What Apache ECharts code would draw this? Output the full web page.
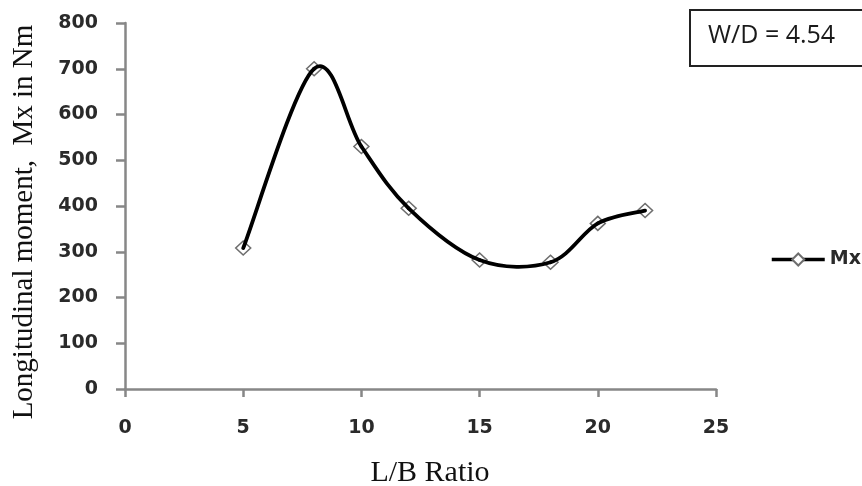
<!DOCTYPE html>
<html><head><meta charset="utf-8">
<script src="https://cdn.jsdelivr.net/npm/echarts@6/dist/echarts.min.js"></script>
<style>html,body{margin:0;padding:0;background:#fff}#c{width:862px;height:486px}</style>
</head><body><div id="c"></div>
<script>
const lbRatio = [5, 8, 10, 12, 15, 18, 20, 22];
const mxValues = [308, 700, 530, 395, 282, 277, 362, 390];
const seriesName = 'Mx';
const xTitle = 'L/B Ratio';
const yTitle = 'Longitudinal moment,  Mx in Nm';
const boxText = 'W/D = 4.54';

const chart = echarts.init(document.getElementById('c'), null, {renderer: 'canvas'});
const axisColor = '#878787';
const tickFont = {fontFamily: 'DejaVu Sans', fontWeight: 'bold', fontSize: 19, color: '#2a2a2a'};
const points = lbRatio.map((x, i) => [x, mxValues[i]]);

function renderSegment(params, api) {
  const i = params.dataIndex;
  const n = points.length;
  if (i >= n - 1) return null;
  const p0 = api.coord(points[Math.max(0, i - 1)]);
  const p1 = api.coord(points[i]);
  const p2 = api.coord(points[i + 1]);
  const p3 = api.coord(points[Math.min(n - 1, i + 2)]);
  const t = 1 / 6;
  return {
    type: 'bezierCurve',
    shape: {
      x1: p1[0], y1: p1[1], x2: p2[0], y2: p2[1],
      cpx1: p1[0] + (p2[0] - p0[0]) * t, cpy1: p1[1] + (p2[1] - p0[1]) * t,
      cpx2: p2[0] - (p3[0] - p1[0]) * t, cpy2: p2[1] - (p3[1] - p1[1]) * t
    },
    style: {stroke: '#000', lineWidth: 3.8, fill: null, lineCap: 'round'}
  };
}

chart.setOption({
  animation: false,
  backgroundColor: '#fff',
  grid: {left: 125, right: 146, top: 23, bottom: 97, containLabel: false},
  xAxis: {
    type: 'value', min: 0, max: 25, interval: 5,
    axisLine: {show: true, lineStyle: {color: axisColor, width: 2.5}},
    axisTick: {show: true, length: 8, lineStyle: {color: axisColor, width: 2.5}},
    axisLabel: Object.assign({margin: 30}, tickFont),
    splitLine: {show: false}
  },
  yAxis: {
    type: 'value', min: 0, max: 800, interval: 100,
    axisLine: {show: true, lineStyle: {color: axisColor, width: 2.5}},
    axisTick: {show: true, length: 9, lineStyle: {color: axisColor, width: 2.5}},
    axisLabel: Object.assign({margin: 27}, tickFont),
    splitLine: {show: false}
  },
  legend: {
    show: true, left: 770, top: 250, orient: 'vertical', padding: 0,
    itemWidth: 53, itemHeight: 15, itemGap: 6,
    lineStyle: {color: '#000', width: 3.5, opacity: 1},
    textStyle: {fontFamily: 'DejaVu Sans', fontWeight: 'bold', fontSize: 19, color: '#2a2a2a', padding: [0, 0, 0, 0]},
    data: [seriesName]
  },
  series: [{
    name: seriesName, type: 'line',
    data: points,
    lineStyle: {color: '#000', width: 3.5, opacity: 0},
    itemStyle: {color: '#fff', borderColor: '#6e6e6e', borderWidth: 1.5},
    symbol: 'diamond', symbolSize: [15, 14],
    z: 2
  }, {
    name: seriesName + '_curve', type: 'custom',
    data: points,
    renderItem: renderSegment,
    z: 3, silent: true
  }],
  graphic: [
    {type: 'rect', left: 689, top: 9, shape: {width: 200, height: 56},
     style: {fill: '#fff', stroke: '#222', lineWidth: 2}},
    {type: 'text', x: 708, y: 36,
     style: {text: boxText, font: '25px "Open Sans"', fill: '#1a1a1a', textVerticalAlign: 'middle'}},
    {type: 'text', x: 430, y: 473,
     style: {text: xTitle, font: '30px "Liberation Serif"', fill: '#111', textAlign: 'center', textVerticalAlign: 'middle'}},
    {type: 'text', x: 24, y: 222, rotation: Math.PI / 2,
     style: {text: yTitle, font: '29px "Liberation Serif"', fill: '#111', textAlign: 'center', textVerticalAlign: 'middle'}}
  ]
});
</script></body></html>
